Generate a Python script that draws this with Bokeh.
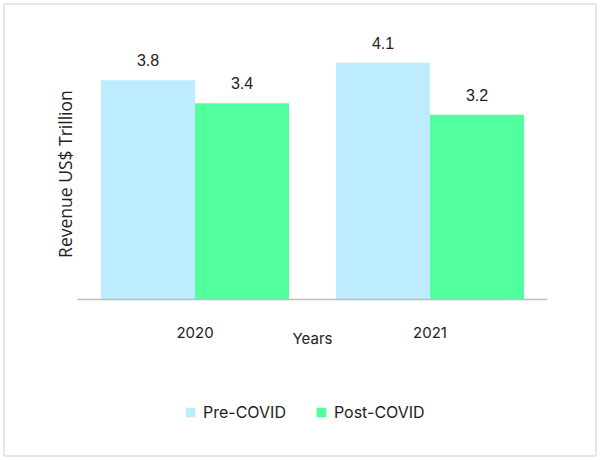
from bokeh.plotting import figure
from bokeh.layouts import column
from bokeh.models import ColumnDataSource, FactorRange, Legend, LegendItem, LabelSet, FixedTicker, Range1d
from bokeh.transform import dodge
from bokeh.core.properties import value
from bokeh.embed import file_html
from bokeh.resources import INLINE

years = ["2020", "2021"]
pre_covid = [3.8, 4.1]
post_covid = [3.4, 3.2]
series_names = ["Pre-COVID", "Post-COVID"]
colors = ["#bdebff", "#51ff9e"]

src = ColumnDataSource(dict(
    years=years, pre=pre_covid, post=post_covid,
    pre_lbl=[f"{v:.1f}" for v in pre_covid],
    post_lbl=[f"{v:.1f}" for v in post_covid],
))

p = figure(width=590, height=375, x_range=FactorRange(*years, range_padding=0),
           y_range=Range1d(0, 4.66), output_backend="svg", toolbar_location=None,
           min_border_left=72, min_border_right=48, min_border_top=25, min_border_bottom=81)
p.outline_line_color = None
p.xgrid.grid_line_color = None
p.ygrid.grid_line_color = None

r1 = p.vbar(x=dodge("years", -0.2, range=p.x_range), top="pre", width=0.4, source=src,
            fill_color=colors[0], line_color=None)
r2 = p.vbar(x=dodge("years", 0.2, range=p.x_range), top="post", width=0.4, source=src,
            fill_color=colors[1], line_color=None)

for col, lbl, off in (("pre", "pre_lbl", -0.2), ("post", "post_lbl", 0.2)):
    ls = LabelSet(x=dodge("years", off, range=p.x_range), y=col, text=lbl, source=src,
                  text_align="center", text_baseline="middle", y_offset=20,
                  text_font=value("Liberation Sans"), text_font_size="16px", text_color="#222222")
    p.add_layout(ls)

xa = p.xaxis[0]
xa.axis_line_color = "#bdbdbd"
xa.axis_line_width = 1.5
xa.major_tick_line_color = None
xa.minor_tick_line_color = None
xa.major_label_standoff = 21
xa.major_label_text_font = "Inter"
xa.major_label_text_font_size = "15px"
xa.major_label_text_color = "#222222"
xa.axis_label = "Years"
xa.axis_label_text_font = "Inter"
xa.axis_label_text_font_size = "15px"
xa.axis_label_text_font_style = "normal"
xa.axis_label_text_color = "#222222"
xa.axis_label_standoff = -12

ya = p.yaxis[0]
ya.ticker = FixedTicker(ticks=[])
ya.axis_line_color = None
ya.major_tick_line_color = None
ya.minor_tick_line_color = None
ya.axis_label = "Revenue US$ Trillion" + "\u00a0" * 4
ya.axis_label_text_font = "Open Sans"
ya.axis_label_text_font_size = "17.5px"
ya.axis_label_text_font_style = "normal"
ya.axis_label_text_color = "#222222"
ya.axis_label_standoff = 1

# legend strip below the chart (its frame is aligned with the chart's frame)
lf = figure(width=590, height=75, x_range=Range1d(0, 1), y_range=Range1d(0, 1),
            x_axis_type=None, y_axis_type=None, output_backend="svg", toolbar_location=None,
            min_border=0)
lf.outline_line_color = None
lf.xgrid.grid_line_color = None
lf.ygrid.grid_line_color = None
# zero-height swatch renderers: they only supply the legend's colour keys
k1 = lf.vbar(x=[0.5], top=[0], bottom=[0], width=0.1, fill_color=colors[0], line_color=None)
k2 = lf.vbar(x=[0.5], top=[0], bottom=[0], width=0.1, fill_color=colors[1], line_color=None)
legend = Legend(items=[LegendItem(label=series_names[0], renderers=[k1]),
                       LegendItem(label=series_names[1], renderers=[k2])],
                orientation="horizontal", location=(107, 33), border_line_color=None,
                background_fill_alpha=0,
                label_text_font="Inter", label_text_font_size="16px", label_text_color="#222222",
                glyph_width=12, glyph_height=12, label_standoff=7, spacing=29,
                padding=0, margin=0)
lf.add_layout(legend)

layout = column(p, lf, spacing=0,
                styles={"margin": "3px", "border": "2px solid #e6e6e6", "border-radius": "3px"})

open("out.html", "w").write(file_html(layout, INLINE))
